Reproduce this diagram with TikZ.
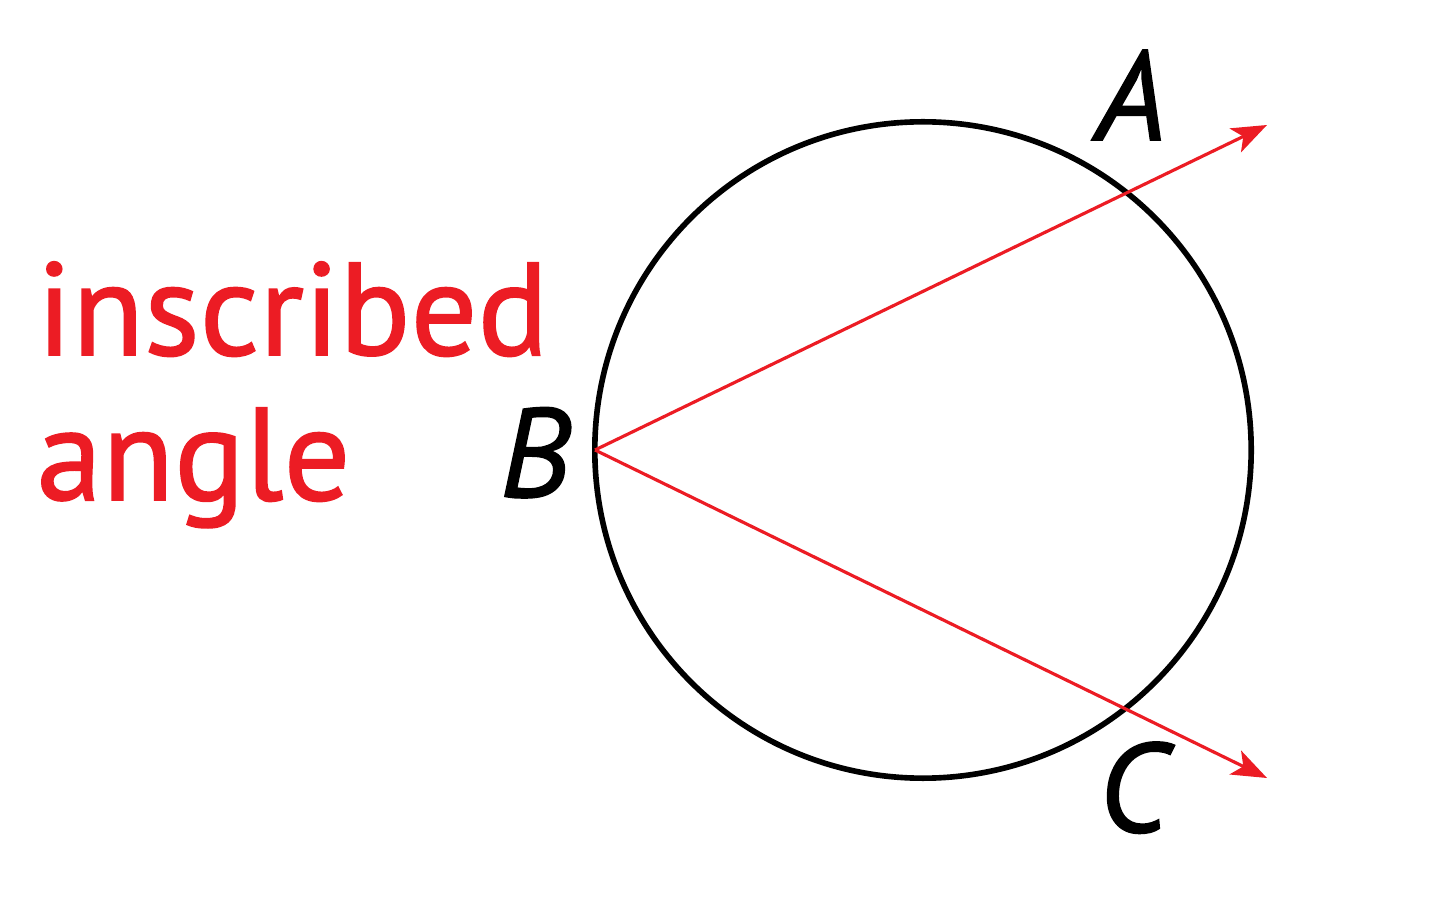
\documentclass[tikz,border=0pt]{standalone}
\usepackage{fontspec}
\setmainfont{PT Sans}
\newfontface\heavysans{PT Sans}[FakeBold = 1.2]
\newfontface\heavyitalic{PT Sans Italic}[FakeBold = 1.2]
\usetikzlibrary{arrows.meta}
\definecolor{rayred}{RGB}{236,28,36}
\tikzset{
  ray/.style = {draw = rayred, line width = .9pt,
    -{Stealth[length = 10pt, width = 7.5pt, inset = 2.5pt]}},
  ptlabel/.style = {anchor = base, font = \fontsize{36}{42}\heavyitalic},
  redtext/.style = {anchor = base west, text = rayred, inner sep = 0pt,
    font = \fontsize{37.5}{44}\heavysans}
}
\begin{document}
\begin{tikzpicture}[x = .01cm, y = -.01cm]
    \useasboundingbox (0, 0) rectangle (1440, 922);
    \coordinate (O) at (923, 450);
    \coordinate (B) at (595, 450);
    \coordinate (Aend) at (1267, 125);
    \coordinate (Cend) at (1267, 778);
    \draw[line width = 1.6pt] (O) circle (3.28cm);
    \draw[ray] (B) -- (Aend);
    \draw[ray] (B) -- (Cend);
    \node[ptlabel] (labA) at (1131, 140) {A};
    \node[ptlabel] (labB) at (535, 497) {B};
    \node[ptlabel] (labC) at (1133, 832) {C};
    \node[redtext] (insc) at (36, 355) {inscribed};
    \node[redtext] (ang) at (36, 500) {angle};
  \end{tikzpicture}
\end{document}
